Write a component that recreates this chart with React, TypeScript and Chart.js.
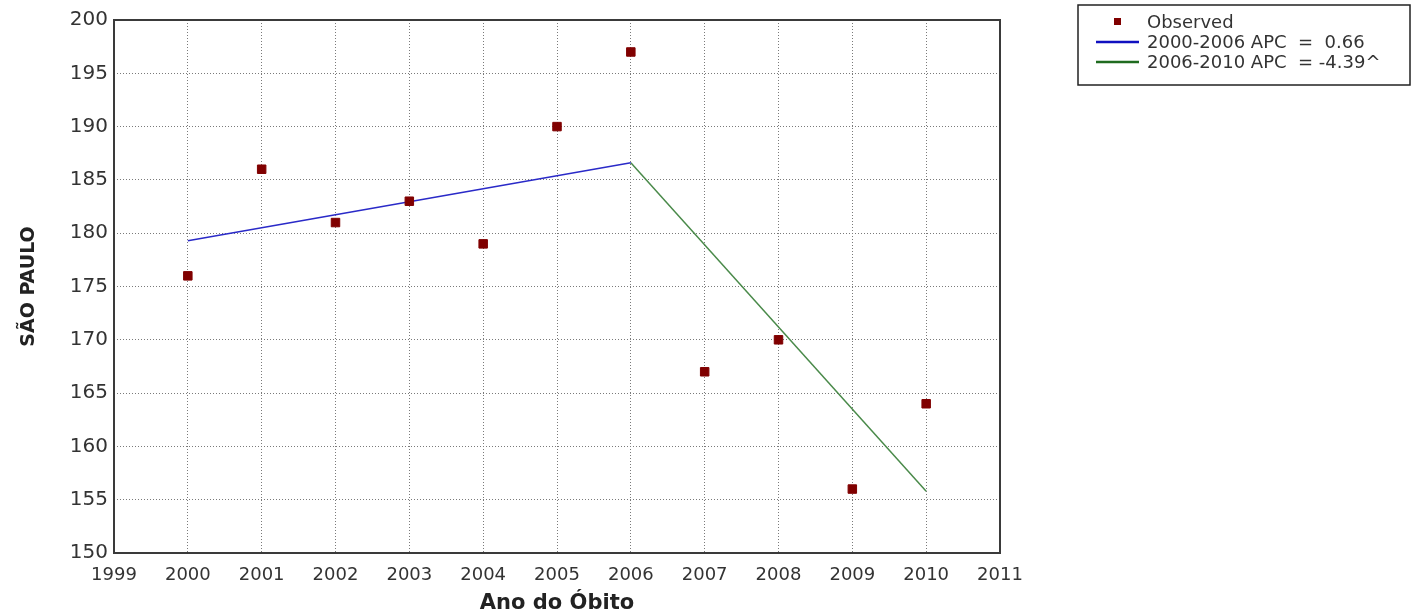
import React, { useEffect, useRef } from "react";
import { Chart, registerables } from "chart.js";

Chart.register(...registerables);

const years = [2000, 2001, 2002, 2003, 2004, 2005, 2006, 2007, 2008, 2009, 2010];
const observed = [176, 186, 181, 183, 179, 190, 197, 167, 170, 156, 164];
const seg1Years = [2000, 2006];
const seg1Values = [179.3, 186.6];
const seg2Years = [2006, 2010];
const seg2Values = [186.6, 155.8];
const legendLabels = ["Observed", "2000-2006 APC  =  0.66", "2006-2010 APC  = -4.39^"];

const FONT = "'DejaVu Sans', Verdana, sans-serif";

const framePlugin = {
  id: "frame",
  afterDraw(chart: any) {
    const { ctx, chartArea } = chart;
    ctx.save();
    ctx.strokeStyle = "#3a3a3a";
    ctx.lineWidth = 2;
    ctx.strokeRect(chartArea.left, chartArea.top, chartArea.right - chartArea.left, chartArea.bottom - chartArea.top);
    // legend box
    const lx = 1078, ly = 5, lw = 332, lh = 80;
    ctx.fillStyle = "#fff";
    ctx.fillRect(lx, ly, lw, lh);
    ctx.strokeStyle = "#222";
    ctx.lineWidth = 1.5;
    ctx.strokeRect(lx, ly, lw, lh);
    ctx.font = `18px ${FONT}`;
    ctx.textBaseline = "middle";
    ctx.textAlign = "left";
    const rows = [22, 42, 62];
    ctx.fillStyle = "#800000";
    ctx.fillRect(1114, rows[0] - 4, 7, 7);
    ctx.lineWidth = 2.5;
    ctx.strokeStyle = "#1010c0";
    ctx.beginPath();
    ctx.moveTo(1096, rows[1]);
    ctx.lineTo(1139, rows[1]);
    ctx.stroke();
    ctx.strokeStyle = "#1f6b1f";
    ctx.beginPath();
    ctx.moveTo(1096, rows[2]);
    ctx.lineTo(1139, rows[2]);
    ctx.stroke();
    ctx.fillStyle = "#333";
    legendLabels.forEach((t, i) => ctx.fillText(t, 1147, rows[i] + 1));
    ctx.restore();
  },
};

export default function App() {
  const ref = useRef<HTMLCanvasElement | null>(null);
  useEffect(() => {
    if (!ref.current) return;
    const chart = new Chart(ref.current, {
      type: "scatter",
      data: {
        datasets: [
          {
            label: legendLabels[0],
            data: years.map((x, i) => ({ x, y: observed[i] })),
            pointStyle: "rect",
            pointRadius: 6,
            borderWidth: 1,
            backgroundColor: "#800000",
            borderColor: "#800000",
            showLine: false,
            order: 0,
          },
          {
            label: legendLabels[1],
            data: seg1Years.map((x, i) => ({ x, y: seg1Values[i] })),
            showLine: true,
            borderColor: "#2a2ac8",
            borderWidth: 1.5,
            pointRadius: 0,
            order: 1,
          },
          {
            label: legendLabels[2],
            data: seg2Years.map((x, i) => ({ x, y: seg2Values[i] })),
            showLine: true,
            borderColor: "#4a8a4a",
            borderWidth: 1.5,
            pointRadius: 0,
            order: 1,
          },
        ],
      },
      options: {
        animation: false,
        responsive: false,
        maintainAspectRatio: false,
        layout: { padding: { left: 0, right: 412, top: 20, bottom: 0 } },
        plugins: { legend: { display: false }, tooltip: { enabled: false } },
        scales: {
          x: {
            type: "linear",
            min: 1999,
            max: 2011,
            afterFit: (s: any) => { s.height = 63; },
            ticks: {
              stepSize: 1,
              color: "#333",
              font: { size: 18, family: FONT },
              padding: 12,
              callback: (v: any) => String(v),
            },
            grid: { color: "#7a7a7a", lineWidth: 1, drawTicks: false, tickLength: 0 },
            border: { display: false, dash: [1, 2] },
            title: {
              display: true,
              text: "Ano do Óbito",
              color: "#222",
              font: { size: 21, weight: "bold", family: FONT },
              padding: { top: 0, bottom: 0 },
            },
          },
          y: {
            min: 150,
            max: 200,
            afterFit: (s: any) => { s.width = 114; },
            ticks: {
              stepSize: 5,
              color: "#333",
              font: { size: 20, family: FONT },
              padding: 6,
            },
            grid: { color: "#7a7a7a", lineWidth: 1, drawTicks: false, tickLength: 0 },
            border: { display: false, dash: [1, 2] },
            title: {
              display: true,
              text: "SÃO PAULO",
              color: "#222",
              font: { size: 19, weight: "bold", family: FONT },
              padding: { top: 18, bottom: 0 },
            },
          },
        },
      },
      plugins: [framePlugin],
    } as any);
    return () => chart.destroy();
  }, []);
  return (
    <div style={{ position: "absolute", left: 0, top: 0, width: 1412, height: 616, background: "#fff" }}>
      <canvas ref={ref} width={1412} height={616} />
    </div>
  );
}
